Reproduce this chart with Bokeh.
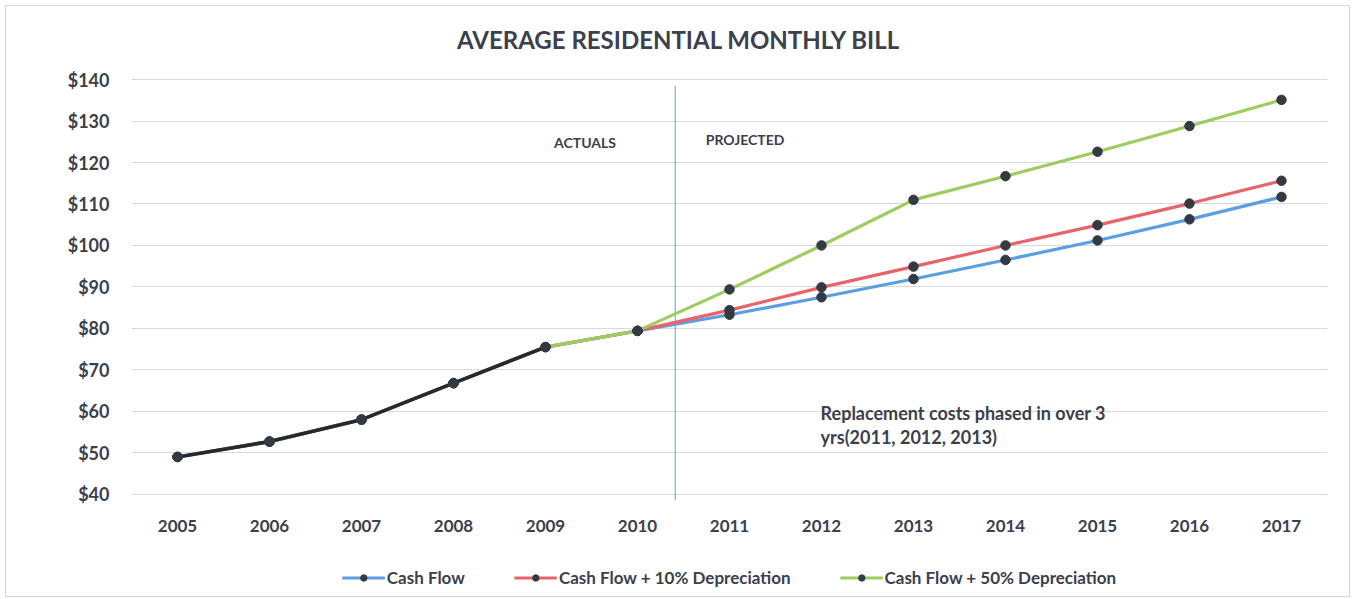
from bokeh.plotting import figure
from bokeh.models import (Range1d, FixedTicker, NumeralTickFormatter, Label, Legend,
                          LegendItem, ColumnDataSource)
from bokeh.layouts import column
from bokeh.embed import file_html
from bokeh.resources import INLINE

# ---- data ----
years = [2005, 2006, 2007, 2008, 2009, 2010, 2011, 2012, 2013, 2014, 2015, 2016, 2017]
actual_years = [2005, 2006, 2007, 2008, 2009, 2010]
actual_values = [49.0, 52.7, 58.0, 66.8, 75.5, 79.4]
proj_years = [2011, 2012, 2013, 2014, 2015, 2016, 2017]
cash_flow = [83.3, 87.5, 91.9, 96.5, 101.2, 106.3, 111.7]
cash_flow_10 = [84.4, 89.9, 94.9, 100.0, 104.9, 110.1, 115.6]
cash_flow_50 = [89.4, 100.0, 111.0, 116.7, 122.6, 128.8, 135.1]
series_names = ["Cash Flow", "Cash Flow + 10% Depreciation", "Cash Flow + 50% Depreciation"]
y_ticks = [40, 50, 60, 70, 80, 90, 100, 110, 120, 130, 140]
divider_year = 2010.41
chart_title = "AVERAGE RESIDENTIAL MONTHLY BILL"

FONT = "Lato"
TXT = "#3c404a"
colors = ["#5b9fe3", "#e8646c", "#9dcc60"]
marker_color = "#343a42"

W = 1343


def strip(height, top=0, left=125):
    f = figure(width=W, height=height, output_backend="svg", toolbar_location=None,
               x_range=Range1d(2004.5, 2017.5), y_range=Range1d(0, 1),
               x_axis_location=None, y_axis_location=None,
               min_border_left=left, min_border_right=22, min_border_top=top,
               min_border_bottom=0)
    f.outline_line_color = None
    f.xgrid.grid_line_color = None
    f.ygrid.grid_line_color = None
    return f


# ---- title strip ----
tf = strip(50)
tf.add_layout(Label(x=2010.45, y=0.34, text=chart_title, text_font=FONT,
                    text_font_style="bold", text_font_size="24px", text_color="#3c404a",
                    text_align="center", text_baseline="middle"))

# ---- main chart ----
p = figure(width=W, height=490, output_backend="svg", toolbar_location=None,
           x_range=Range1d(2004.5, 2017.5), y_range=Range1d(38.5, 140.5),
           min_border_left=125, min_border_right=22, min_border_top=21, min_border_bottom=46)
p.outline_line_color = None
p.background_fill_color = "white"

for ax in (p.xaxis[0], p.yaxis[0]):
    ax.axis_line_color = None
    ax.major_tick_line_color = None
    ax.minor_tick_line_color = None
    ax.major_tick_out = 0
    ax.major_tick_in = 0
    ax.major_label_text_font = FONT
    ax.major_label_text_font_style = "bold"
    ax.major_label_text_color = TXT
p.xaxis.major_label_text_font_size = "17px"
p.yaxis.major_label_text_font_size = "18px"
p.xaxis.ticker = FixedTicker(ticks=years)
p.xaxis.major_label_standoff = 19
p.yaxis.ticker = FixedTicker(ticks=y_ticks)
p.yaxis.formatter = NumeralTickFormatter(format="$0")
p.yaxis.major_label_standoff = 22
p.xgrid.grid_line_color = None
p.ygrid.grid_line_color = "#d9d9d9"
p.ygrid.grid_line_width = 1

# divider line
p.segment(x0=[divider_year], y0=[38.5], x1=[divider_year], y1=[138.5],
          line_color="#5aa2e6", line_width=1)

sources = []
for name, proj, col in zip(series_names, [cash_flow, cash_flow_10, cash_flow_50], colors):
    src = ColumnDataSource(dict(x=actual_years + proj_years, y=actual_values + proj))
    p.line("x", "y", source=src, line_color=col, line_width=3.2)
    sources.append(src)

# actuals segment (black)
act_src = ColumnDataSource(dict(x=actual_years[:5], y=actual_values[:5]))
p.line("x", "y", source=act_src, line_color="#262a30", line_width=3.6)

for src in sources:
    p.scatter("x", "y", source=src, size=9.5, fill_color=marker_color, line_color=marker_color)

p.add_layout(Label(x=2009.43, y=124.8, text="ACTUALS", text_font=FONT,
                   text_font_style="bold", text_font_size="14px", text_color=TXT,
                   text_align="center", text_baseline="middle"))
p.add_layout(Label(x=2011.17, y=125.5, text="PROJECTED", text_font=FONT,
                   text_font_style="bold", text_font_size="14px", text_color=TXT,
                   text_align="center", text_baseline="middle"))
p.add_layout(Label(x=2011.99, y=59.5, text="Replacement costs phased in over 3",
                   text_font=FONT, text_font_style="bold", text_font_size="18px",
                   text_color=TXT, text_align="left", text_baseline="middle"))
p.add_layout(Label(x=2011.99, y=53.7, text="yrs(2011, 2012, 2013)",
                   text_font=FONT, text_font_style="bold", text_font_size="18px",
                   text_color=TXT, text_align="left", text_baseline="middle"))

# ---- legend strip (same series, plotted outside its visible y range) ----
lf = strip(50, top=12, left=115)
items = []
for name, src, col in zip(series_names, sources, colors):
    lsrc = ColumnDataSource(dict(x=list(src.data["x"]), y=list(src.data["y"])))
    lr = lf.line("x", "y", source=lsrc, line_color=col, line_width=3.2)
    cr = lf.scatter("x", "y", source=lsrc, size=9.5, fill_color=marker_color,
                    line_color=marker_color)
    items.append(LegendItem(label=name, renderers=[lr, cr]))
legend = Legend(items=items, orientation="horizontal", location="center",
                label_text_font=FONT, label_text_font_style="bold",
                label_text_font_size="17px", label_text_color=TXT,
                glyph_width=43, glyph_height=16, label_standoff=2, spacing=49,
                padding=0, margin=0, border_line_color=None,
                background_fill_alpha=0)
lf.add_layout(legend)

layout = column(tf, p, lf, spacing=0)
layout.styles = {"border": "1px solid #d6d6d6", "margin-left": "5px", "margin-top": "5px"}

open("out.html", "w").write(file_html(layout, INLINE))
